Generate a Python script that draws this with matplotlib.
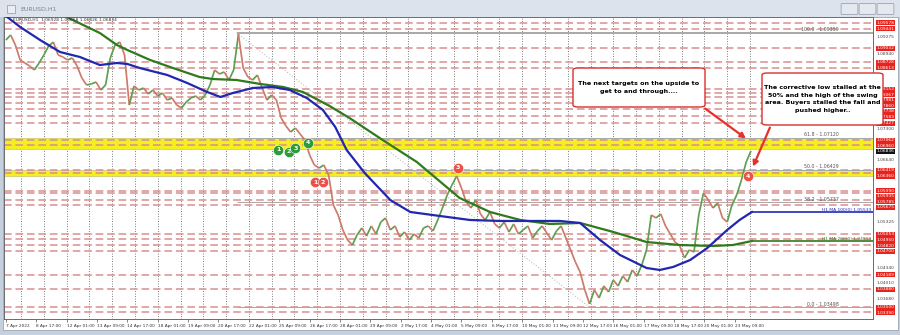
import matplotlib.pyplot as plt
import matplotlib.patches as mpatches
from matplotlib.collections import LineCollection
import numpy as np

plt.rcParams['font.family'] = ['DejaVu Sans']

# ------------------------------------------------------------
# data (one close every 5 bars)
# ------------------------------------------------------------
bar_step = 5
closes = [
    1.09205, 1.09312, 1.09098, 1.08778, 1.08714, 1.08650, 1.08565, 1.08714, 1.08885, 1.09077,
    1.09162, 1.08885, 1.08842, 1.08778, 1.08821, 1.08650, 1.08394, 1.08244, 1.08266, 1.08308,
    1.08138, 1.08244, 1.08821, 1.09098, 1.09162, 1.08885, 1.07817, 1.08223, 1.08138, 1.08180,
    1.08052, 1.08138, 1.08009, 1.08073, 1.07924, 1.07967, 1.07817, 1.07753, 1.07881, 1.07967,
    1.08009, 1.07924, 1.08031, 1.08244, 1.08565, 1.08479, 1.08522, 1.08351, 1.08565, 1.09330,
    1.08607, 1.08415, 1.08351, 1.08458, 1.08180, 1.07924, 1.08031, 1.07924, 1.07540, 1.07369,
    1.07241, 1.07326, 1.07198, 1.07070, 1.06750, 1.06536, 1.06472, 1.06536, 1.06323, 1.05682,
    1.05469, 1.05149, 1.04935, 1.04828, 1.05042, 1.05191, 1.05020, 1.05234, 1.05063, 1.05319,
    1.05405, 1.05149, 1.05234, 1.04999, 1.05106, 1.04935, 1.05063, 1.04978, 1.05191, 1.05234,
    1.05127, 1.05362, 1.05618, 1.05896, 1.06109, 1.06301, 1.06045, 1.05746, 1.05618, 1.05789,
    1.05490, 1.05362, 1.05533, 1.05277, 1.05191, 1.05319, 1.05106, 1.05277, 1.05063, 1.05149,
    1.05234, 1.04978, 1.05127, 1.05234, 1.05084, 1.04935, 1.05127, 1.05234, 1.04978, 1.04722,
    1.04465, 1.04252, 1.03868, 1.03569, 1.03868, 1.03697, 1.03953, 1.03825, 1.04081, 1.03953,
    1.04166, 1.04038, 1.04295, 1.04166, 1.04401, 1.04722, 1.05469, 1.05405, 1.05490, 1.05234,
    1.05063, 1.04892, 1.04807, 1.04551, 1.04722, 1.04679, 1.05469, 1.05938, 1.05789, 1.05618,
    1.05725, 1.05405, 1.05319, 1.05682, 1.05896, 1.06216, 1.06600, 1.06836,
]

ma100_bars = [0, 15, 36, 57, 78, 99, 117, 128, 141, 170, 191, 212, 226, 239, 260, 281, 299,
              317, 334, 347, 359, 378, 405, 426, 457, 489, 521, 552, 584, 605, 626, 647, 675,
              689, 703, 721, 739, 760, 773, 786]
ma100_vals = [1.09717, 1.09483, 1.09205, 1.08949, 1.08842, 1.08671, 1.08714, 1.08693, 1.08607,
              1.08458, 1.08287, 1.08095, 1.07988, 1.08073, 1.08180, 1.08202, 1.08138, 1.07967,
              1.07711, 1.07348, 1.06857, 1.06366, 1.05789, 1.05533, 1.05448, 1.05362, 1.05341,
              1.05341, 1.05341, 1.05298, 1.04935, 1.04615, 1.04337, 1.04295, 1.04359, 1.04508,
              1.04764, 1.05149, 1.05362, 1.05533]

ma200_bars = [57, 64, 99, 117, 128, 152, 176, 204, 218, 243, 268, 292, 313, 341, 362, 397, 433,
              478, 510, 542, 573, 605, 640, 675, 710, 745, 766, 786]
ma200_vals = [1.09803, 1.09696, 1.09354, 1.09098, 1.08991, 1.08778, 1.08607, 1.08415, 1.08372,
              1.08351, 1.08266, 1.08202, 1.08095, 1.07796, 1.07540, 1.07070, 1.06600, 1.05832,
              1.05533, 1.05362, 1.05277, 1.05298, 1.05106, 1.04892, 1.04828, 1.04807, 1.04828,
              1.04913]

red_levels = [1.09578, 1.09441, 1.09032, 1.08728, 1.08613, 1.08152, 1.08067, 1.07981, 1.07860,
              1.07738, 1.07583, 1.07427, 1.07062, 1.06960, 1.06419, 1.06360, 1.05990, 1.05935,
              1.05785, 1.05675, 1.05053, 1.04950, 1.04820, 1.04700, 1.04189, 1.03880, 1.03500,
              1.03390]

fib_names = ['100.0', '61.8', '50.0', '38.2', '0.0']
fib_prices = [1.09359, 1.07120, 1.06429, 1.05737, 1.03498]
fib_start_bar = 243
fib_low_bar = 615

yellow_zones = [(1.06867, 1.07102), (1.06291, 1.06430)]

axis_prices = [1.09275, 1.08940, 1.07300, 1.06640, 1.05325, 1.04340, 1.04010, 1.03680]
last_price = 1.06836

tick_labels = ['7 Apr 2022', '8 Apr 17:00', '12 Apr 01:00', '13 Apr 09:00', '14 Apr 17:00',
               '18 Apr 01:00', '19 Apr 09:00', '20 Apr 17:00', '22 Apr 01:00', '25 Apr 09:00',
               '26 Apr 17:00', '28 Apr 01:00', '29 Apr 09:00', '2 May 17:00', '4 May 01:00',
               '5 May 09:00', '6 May 17:00', '10 May 01:00', '11 May 09:00', '12 May 17:00',
               '16 May 01:00', '17 May 09:00', '18 May 17:00', '20 May 01:00', '23 May 09:00']

green_marks = [(287, 1.06857, '1'), (298, 1.06814, '2'), (305, 1.06899, '3'), (318, 1.07006, '4')]
red_marks = [(326, 1.06173, '1'), (334, 1.06173, '2'), (476, 1.06472, '3'), (782, 1.06301, '4')]

# ------------------------------------------------------------
# figure / window chrome
# ------------------------------------------------------------
W, H = 900, 335
fig = plt.figure(figsize=(9, 3.35), dpi=100, facecolor='#c5d0df')


def fp(x, y):
    # pixel (from top-left) -> figure fraction
    return x / W, 1 - y / H


fig.patches.append(mpatches.Rectangle(fp(0, 17), 1, 17 / H, transform=fig.transFigure,
                                      fc='#dce3ec', ec='none', zorder=-2))
fig.patches.append(mpatches.Rectangle(fp(3, 330), 895 / W, 313 / H, transform=fig.transFigure,
                                      fc='white', ec='#9aa6b6', lw=0.6, zorder=-1))
fig.text(*fp(20, 9), 'EURUSD,H1', fontsize=4.5, color='#7a8494', va='center')
fig.patches.append(mpatches.Rectangle(fp(7, 13), 8 / W, 8 / H, transform=fig.transFigure,
                                      fc='#e9eef5', ec='#8a98aa', lw=0.5))
for bx in [842, 860, 878]:
    fig.patches.append(mpatches.FancyBboxPatch(fp(bx, 14), 15 / W, 10 / H, transform=fig.transFigure,
                                               boxstyle='round,pad=0.001', fc='#e4e9f0',
                                               ec='#8d99a8', lw=0.5))

l, b = fp(4, 319)
ax = fig.add_axes([l, b, (873 - 4) / W, (319 - 17) / H])
ax.set_facecolor('white')

x_last = (len(closes) - 1) * bar_step
ax.set_xlim(-2, 913.6)
ax.set_ylim(1.03248, 1.09696)

# vertical dotted grid (one per day)
for gx in range(16, x_last + 1, 24):
    ax.axvline(gx, color='#555555', lw=0.6, ls=(0, (1, 2)), zorder=0.5)

# yellow zones
for lo, hi in yellow_zones:
    ax.axhspan(lo, hi, fc='#f4f01c', ec='#c9c27a', lw=0.5, zorder=1)

# red dashed levels
for lv in red_levels:
    ax.axhline(lv, color='#d88f8f', lw=1.1, ls=(0, (5, 2.5)), zorder=2)

# fibonacci retracement
for name, fpv in zip(fib_names, fib_prices):
    lw = 1.4 if name == '100.0' else 0.7
    ax.hlines(fpv, fib_start_bar, 913.6, color='#a8a8a8', lw=lw, zorder=2.2)
    ax.text(878, fpv + 0.00012, f'{name} - {fpv:.5f}', fontsize=3.4, color='#555555',
            ha='right', va='bottom', zorder=2.3)
ax.plot([fib_start_bar, fib_low_bar], [fib_prices[0], fib_prices[-1]], color='#b0b0b0',
        lw=0.7, ls=(0, (1, 2)), zorder=2.2)

# price path
xs = np.arange(len(closes)) * bar_step
pts = np.column_stack([xs, closes])
segs = np.stack([pts[:-1], pts[1:]], axis=1)
cols = ['#5e9f50' if c1 > c0 else '#cd7b69' for c0, c1 in zip(closes[:-1], closes[1:])]
ax.add_collection(LineCollection(segs, colors=cols, linewidths=1.25, zorder=3))

# moving averages
ax.plot(ma200_bars, ma200_vals, color='#2f7a1c', lw=1.6, zorder=4)
ax.plot(ma100_bars, ma100_vals, color='#2127b0', lw=1.6, zorder=4.1)
ax.hlines(ma100_vals[-1], ma100_bars[-1], 913.6, color='#2127b0', lw=1.2, zorder=4)
ax.hlines(ma200_vals[-1], ma200_bars[-1], 913.6, color='#2f7a1c', lw=1.2, zorder=4)
ax.text(912, ma100_vals[-1] + 0.0001, f'H1 MA 100(0) {ma100_vals[-1]:.5f}', fontsize=3.2,
        color='#2127b0', ha='right', va='bottom', zorder=4)
ax.text(912, ma200_vals[-1] + 0.0001, f'H1 MA 200(0) {ma200_vals[-1]:.5f}', fontsize=3.2,
        color='#2f7a1c', ha='right', va='bottom', zorder=4)

# numbered markers
for mx, my, t in green_marks:
    ax.scatter(mx, my, s=55, color='#2f9a3a', edgecolor='white', lw=0.4, zorder=6)
    ax.text(mx, my, t, fontsize=4.5, color='white', weight='bold', ha='center', va='center', zorder=7)
for mx, my, t in red_marks:
    ax.scatter(mx, my, s=55, color='#ec5147', edgecolor='white', lw=0.4, zorder=6)
    ax.text(mx, my, t, fontsize=4.5, color='white', weight='bold', ha='center', va='center', zorder=7)

# chart info line
ax.text(8, 1.09640, 'EURUSD,H1  1.06928 1.06858 1.06826 1.06834', fontsize=3.2,
        color='#333333', va='center', zorder=5)

# right price scale: labels stacked so they do not collide
scale_items = ([(pv, 'gray') for pv in axis_prices] + [(lv, 'red') for lv in red_levels]
               + [(last_price, 'black')])
scale_items.sort(key=lambda it: -it[0])
gap = 0.00118
ytr = ax.get_yaxis_transform()
prev = None
for pv, kind in scale_items:
    ypos = pv if prev is None else min(pv, prev - gap)
    prev = ypos
    if kind == 'gray':
        ax.text(1.004, ypos, f'{pv:.5f}', transform=ytr, fontsize=3.2, color='#444444',
                va='center', ha='left', clip_on=False)
    else:
        fc = '#e6231d' if kind == 'red' else '#111111'
        ax.text(1.004, ypos, f'{pv:.5f}', transform=ytr, fontsize=3.2, color='white',
                va='center', ha='left', clip_on=False,
                bbox=dict(boxstyle='square,pad=0.12', fc=fc, ec='none'))

ax.set_yticks([])
ax.set_xticks(np.arange(len(tick_labels)) * 32)
ax.set_xticklabels(tick_labels, fontsize=3.1, color='#333333', ha='left')
ax.tick_params(axis='x', length=2, width=0.5, pad=1.5, color='#555555')
for s in ax.spines.values():
    s.set_color('#6b6b6b')
    s.set_linewidth(0.7)

# annotation boxes
box1 = (573, 68, 132, 39)
box2 = (762, 73, 121, 52)
for bx, by, bw, bh in [box1, box2]:
    fig.patches.append(mpatches.FancyBboxPatch(fp(bx, by + bh), bw / W, bh / H,
                                               transform=fig.transFigure,
                                               boxstyle='round,pad=0,rounding_size=0.006',
                                               fc='white', ec='#d9302c', lw=1.0, zorder=5))
fig.text(*fp(639, 87.5), 'The next targets on the upside to\nget to and through....',
         fontsize=4.6, weight='bold', ha='center', va='center', linespacing=1.7, zorder=6)
fig.text(*fp(822.5, 99), 'The corrective low stalled at the\n50% and the high of the swing\n'
         'area. Buyers stalled the fall and\npushed higher..',
         fontsize=4.6, weight='bold', ha='center', va='center', linespacing=1.6, zorder=6)

for (x0, y0), (x1, y1) in [((703, 107), (748, 140)), ((771, 125), (752, 169))]:
    fig.add_artist(mpatches.FancyArrowPatch(fp(x0, y0), fp(x1, y1), transform=fig.transFigure,
                                            arrowstyle='-|>,head_length=3,head_width=1.6',
                                            color='#e8302a', lw=1.6, zorder=6))

fig.savefig('out.png', dpi=100, facecolor=fig.get_facecolor())
